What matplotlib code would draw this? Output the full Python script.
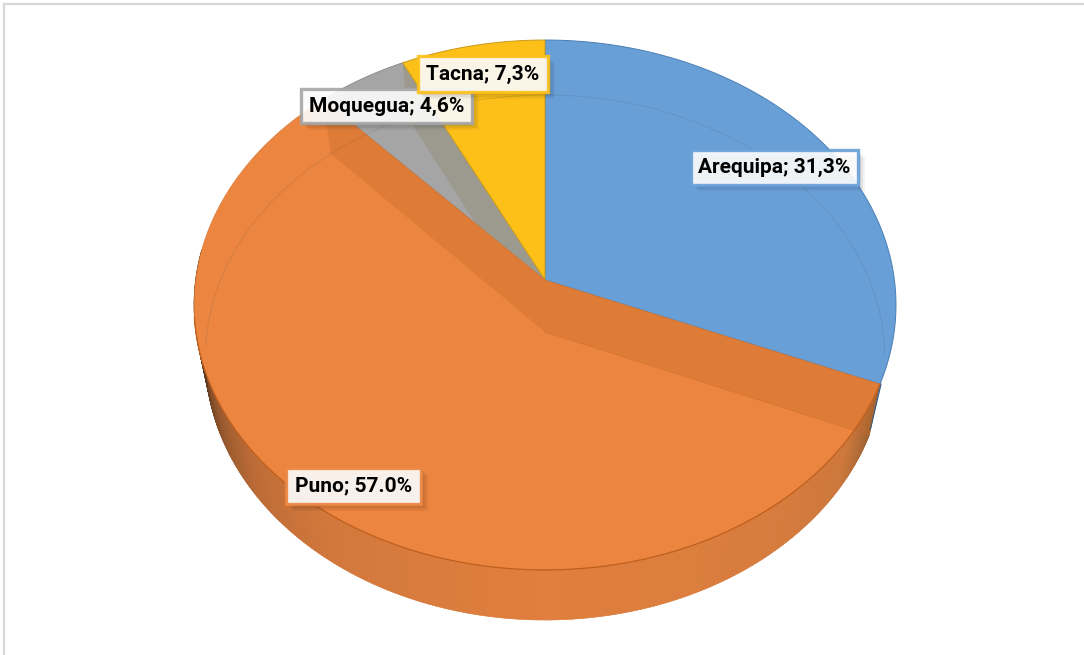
import numpy as np
import matplotlib
matplotlib.use('Agg')
import matplotlib.pyplot as plt
import matplotlib.patheffects as pe

regions = ['Arequipa', 'Puno', 'Moquegua', 'Tacna']
shares = [31.3, 57.0, 4.6, 7.3]
labels = ['Arequipa; 31,3%', 'Puno; 57.0%', 'Moquegua; 4,6%', 'Tacna; 7,3%']

face_colors = ['#689FD7', '#EB8540', '#A5A5A5', '#FCC018']
edge_colors = ['#4A7FB5', '#D4752F', '#8E8E8E', '#C99A20']
label_pos = [(774.5, 167), (353.5, 485.5), (386.5, 105.5), (483, 73.5)]
label_pads = [(0.36), (0.42), (0.36), (0.42)]


# perspective view of the disc: t is clockwise from the top, in degrees
def top_rim(t):
    t = np.radians(t)
    d = 1 + 0.0943 * np.cos(t)
    return 545 + 349.4 * np.sin(t) / d, (280 - 236.2 * np.cos(t)) / d


def bottom_rim(t):
    t = np.radians(t)
    d = 1 + 0.0971 * np.cos(t)
    return 545 + 338 * np.sin(t) / d, (332 - 227.8 * np.cos(t)) / d


def wedge(start, end):
    t = np.linspace(start, end, 200)
    x, y = top_rim(t)
    return np.r_[545, x], np.r_[280, y]


def cut_face(t):
    x0, y0 = top_rim(t)
    x1, y1 = bottom_rim(t)
    return [545, x0, x1, 545], [280, y0, y1, 332]


fig = plt.figure(figsize=(10.84, 6.55), dpi=100)
ax = fig.add_axes([0, 0, 1, 1])
ax.set_xlim(0, 1084)
ax.set_ylim(655, 0)
ax.axis('off')

# frame of the picture
ax.plot([4, 4, 1084], [655, 4, 4], color='#D9D9D9', lw=1.6, solid_joinstyle='miter')

edges = np.cumsum(np.r_[0, shares]) / np.sum(shares) * 360
starts = edges[:-1]
ends = edges[1:]

# outer wall of Puno, drawn in strips so it can go dark towards the left
stop_t = [ends[0], 125, 145, 180, 215, 232, 245, 258, 275]
stop_r = [150, 205, 216, 224, 210, 190, 150, 95, 60]
stop_g = [95, 120, 125, 127, 120, 108, 88, 60, 40]
stop_b = [50, 60, 62, 62, 60, 55, 45, 32, 25]
wall_t = np.arange(ends[0], 276, 0.5)
for t in wall_t:
    x0, y0 = top_rim(np.array([t, t + 0.7]))
    x1, y1 = bottom_rim(np.array([t, t + 0.7]))
    col = (np.interp(t, stop_t, stop_r) / 255, np.interp(t, stop_t, stop_g) / 255,
           np.interp(t, stop_t, stop_b) / 255)
    ax.fill([x0[0], x0[1], x1[1], x1[0]], [y0[0], y0[1], y1[1], y1[0]], color=col, lw=0.4, zorder=1)

# thin sliver of the Arequipa wall on the right
sx, sy = cut_face(ends[0])
ax.plot([sx[1] + 1, sx[2] + 1], [sy[1], sy[2] - 6], color='#2C5A88', lw=0.9, zorder=1)

# top face, Puno last because its cut face sits on top of the grey
for i in [2, 3, 0, 1]:
    x, y = wedge(starts[i], ends[i])
    lw = 0.4 if i == 1 else 0.7
    ax.fill(x, y, facecolor=face_colors[i], edgecolor=edge_colors[i], lw=lw, zorder=2 + i * 0.01 if i != 1 else 2.5)
    if i == 2:
        fx, fy = cut_face(ends[2])
        ax.fill(fx, fy, facecolor='#9C9A8E', edgecolor='none', zorder=2.02)

# cut faces seen through the top
bx, by = cut_face(starts[2])
ax.fill(bx, by, facecolor='#C46A28', edgecolor='none', alpha=0.35, zorder=2.6)
bx, by = cut_face(ends[0])
ax.fill(bx, by, facecolor='#C46A28', edgecolor='none', alpha=0.35, zorder=2.6)
ax.plot([545, bx[2]], [332, by[2]], color='#C8672A', lw=0.5, alpha=0.5, zorder=2.7)

# bottom rim seen through the top face
t = np.linspace(-93, 95, 300)
x, y = bottom_rim(t)
ax.plot(x, y, color='#4A4A4A', lw=0.6, alpha=0.16, zorder=2.7)

# front edge of the top face
t = np.linspace(ends[0], 262, 300)
x, y = top_rim(t)
ax.plot(x, y, color='#C0601F', lw=0.9, zorder=2.8)

for i in range(len(labels)):
    txt = ax.text(label_pos[i][0], label_pos[i][1] + 0.5, labels[i], ha='center', va='center',
                  fontsize=15, fontweight='bold', color='black',
                  family=['Roboto', 'Liberation Sans'], zorder=5,
                  bbox=dict(boxstyle='square,pad=%.2f' % label_pads[i], facecolor='white', alpha=0.9,
                            edgecolor=face_colors[i], linewidth=2.4))
    txt.get_bbox_patch().set_path_effects([
        pe.SimplePatchShadow(offset=(5, -5), shadow_rgbFace='#000000', alpha=0.05),
        pe.SimplePatchShadow(offset=(3.5, -3.5), shadow_rgbFace='#000000', alpha=0.06),
        pe.SimplePatchShadow(offset=(2, -2), shadow_rgbFace='#000000', alpha=0.07),
        pe.Normal()])

plt.savefig('out.png', dpi=100)
